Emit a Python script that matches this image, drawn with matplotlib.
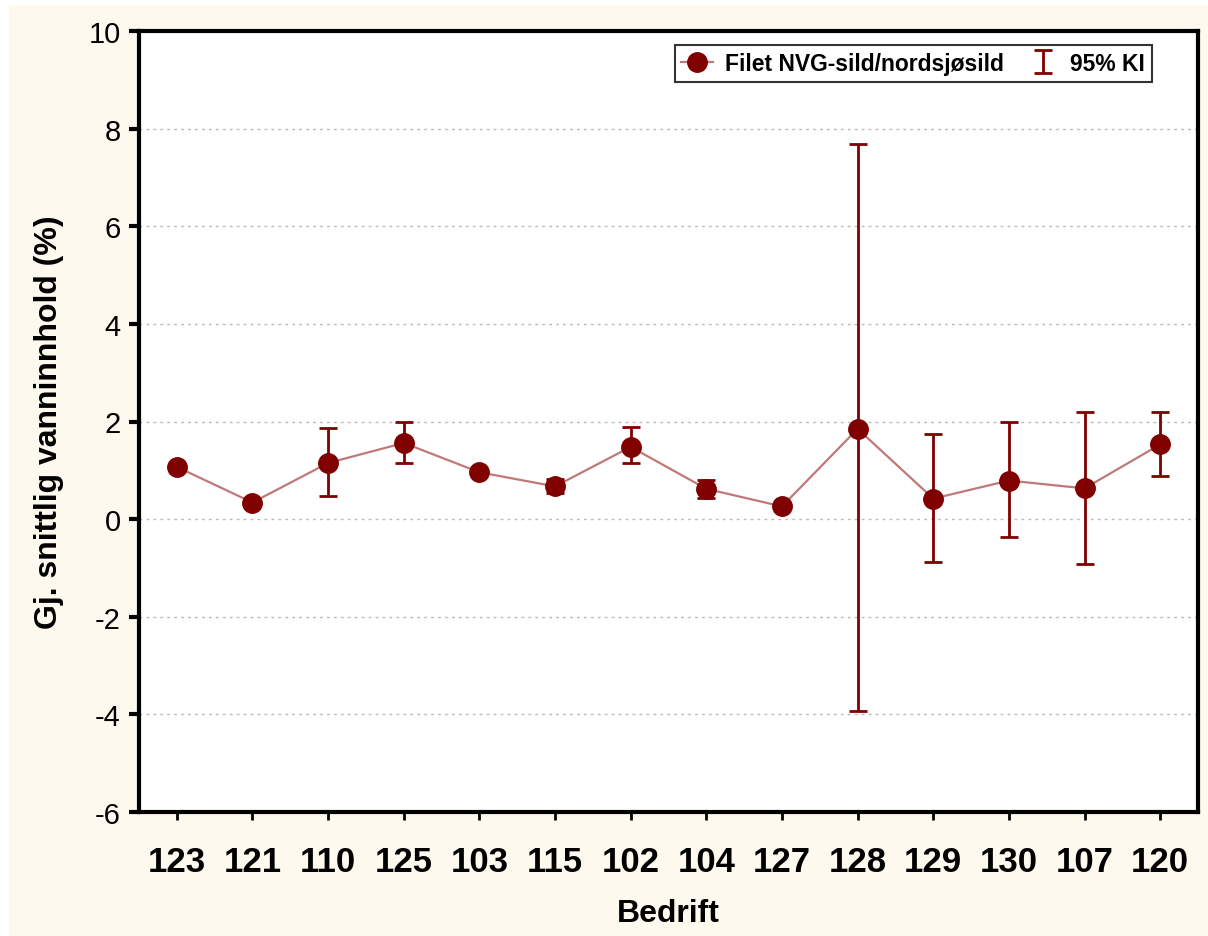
import matplotlib
matplotlib.use("Agg")
import matplotlib.pyplot as plt
import numpy as np
from matplotlib.patches import Rectangle
from matplotlib.lines import Line2D

categories = ["123", "121", "110", "125", "103", "115", "102", "104", "127", "128", "129", "130", "107", "120"]
means = [1.07, 0.34, 1.15, 1.56, 0.96, 0.67, 1.48, 0.62, 0.26, 1.85, 0.42, 0.79, 0.63, 1.53]
ci_low = [np.nan, np.nan, 0.48, 1.14, np.nan, 0.53, 1.14, 0.44, np.nan, -3.93, -0.87, -0.37, -0.91, 0.89]
ci_high = [np.nan, np.nan, 1.87, 1.99, np.nan, 0.82, 1.88, 0.81, np.nan, 7.68, 1.75, 1.99, 2.20, 2.20]
yticks = [-6, -4, -2, 0, 2, 4, 6, 8, 10]

plt.rcParams['font.family'] = ['Liberation Sans', 'DejaVu Sans']

fig = plt.figure(figsize=(12.08, 9.37), dpi=100)
fig.patch.set_facecolor("white")
fig.patches.append(Rectangle((9 / 1208, 0), 1 - 9 / 1208, 1 - 6 / 937,
                             transform=fig.transFigure, facecolor="#FEF9EE",
                             edgecolor="none", zorder=-10))

ax = fig.add_axes([139 / 1208, (937 - 813) / 937, (1198 - 139) / 1208, (813 - 32) / 937])
ax.set_facecolor("white")

x = np.arange(len(categories))
m = np.array(means)
lo = np.array(ci_low)
hi = np.array(ci_high)
mask = ~np.isnan(lo)

dark = "#800000"
ax.plot(x, m, color="#C07878", lw=1.6, zorder=2)
ax.errorbar(x[mask], m[mask], yerr=[m[mask] - lo[mask], hi[mask] - m[mask]],
            fmt="none", ecolor=dark, elinewidth=2, capsize=6.5, capthick=2,
            zorder=3, label="95% KI")
ax.plot(x, m, linestyle="none", marker="o", markersize=14, color=dark,
        markeredgecolor=dark, zorder=4)

h1 = Line2D([], [], color="#C07878", lw=1.6, marker="o", markersize=14,
            markerfacecolor=dark, markeredgecolor=dark)
handles, labels = ax.get_legend_handles_labels()
leg = ax.legend([h1] + handles, ["Filet NVG-sild/nordsjøsild"] + labels,
                loc="upper right", bbox_to_anchor=(0.9566, 0.982), ncol=2,
                frameon=True, fancybox=False, edgecolor="black",
                prop={"weight": "bold", "size": 16.5}, handlelength=1.4,
                handletextpad=0.5, columnspacing=1.0, borderpad=0.3,
                borderaxespad=0)
leg.get_frame().set_linewidth(1.5)

ax.set_xlim(-0.5, len(categories) - 0.5)
ax.set_ylim(-6, 10)
ax.set_yticks(yticks)
ax.set_yticklabels([str(t) for t in yticks], fontsize=21)
ax.set_xticks(x)
ax.set_xticklabels(categories, fontsize=25, fontweight="bold")
ax.tick_params(axis="y", direction="out", length=7, width=3, pad=6)
ax.tick_params(axis="x", direction="out", length=6, width=2, pad=18)
for sp in ax.spines.values():
    sp.set_linewidth(3)
    sp.set_color("black")
ax.grid(axis="y", linestyle=(0, (2, 3)), color="#BBBBBB", lw=1)
ax.set_axisbelow(True)

ax.set_xlabel("Bedrift", fontsize=23, fontweight="bold", labelpad=14)
ax.set_ylabel("Gj. snittlig vanninnhold (%)", fontsize=23, fontweight="bold", labelpad=18)

fig.savefig("out.png", dpi=100, facecolor=fig.get_facecolor())
